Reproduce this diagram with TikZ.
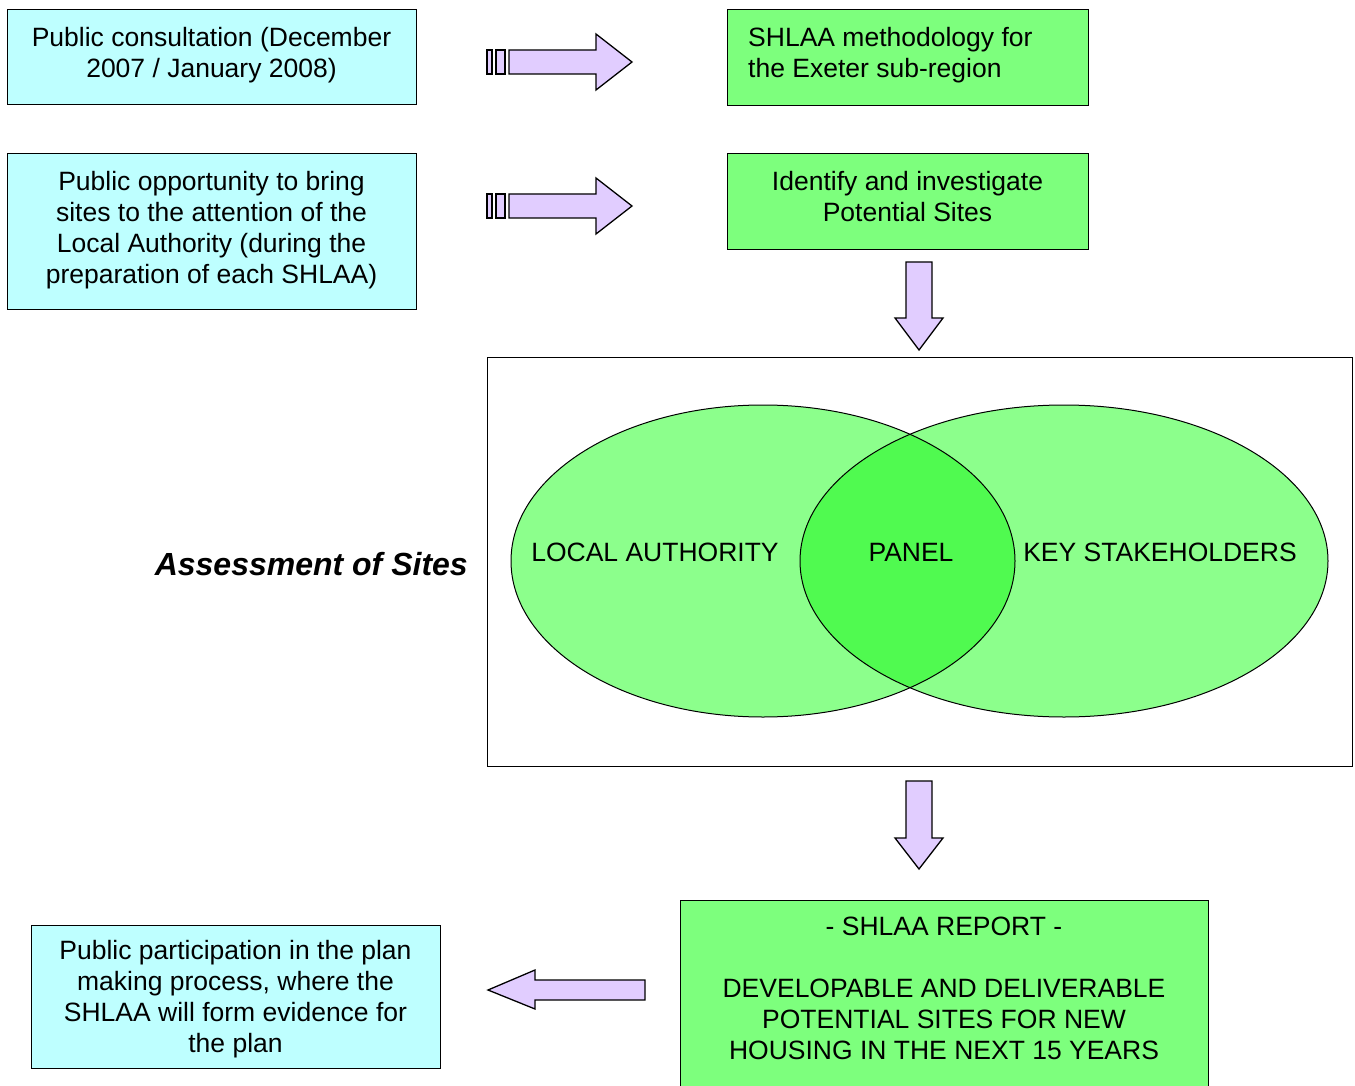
\documentclass[tikz,border=0pt]{standalone}
\usepackage{fontspec}
\setmainfont{Liberation Sans}
\definecolor{cyanbox}{RGB}{190,255,255}
\definecolor{greenbox}{RGB}{125,255,125}
\definecolor{venn}{RGB}{140,255,140}
\definecolor{vennmid}{RGB}{80,250,80}
\definecolor{arrowfill}{RGB}{225,205,255}
\tikzset{
  txt/.style={font=\fontsize{26.5}{31}\selectfont, align=center, inner sep=0pt},
  cbox/.style={draw=black, line width=1pt, fill=cyanbox},
  gbox/.style={draw=black, line width=1pt, fill=greenbox},
  arr/.style={draw=black, line width=1.3pt, fill=arrowfill, line join=miter},
}
\begin{document}
\begin{tikzpicture}[x=1pt,y=-1pt]
\useasboundingbox (0,0) rectangle (1355,1086);
% boxes
\draw[cbox] (7,10) rectangle (416,105);
\node[txt] (c1) at (211.5,55) {Public consultation (December\\2007 / January 2008)};
\draw[cbox] (7,154) rectangle (416,309);
\node[txt] (c2) at (211.5,230) {Public opportunity to bring\\sites to the attention of the\\Local Authority (during the\\preparation of each SHLAA)};
\draw[gbox] (727,10) rectangle (1088,106);
\node[txt, align=left, anchor=west] (g1) at (748,55) {SHLAA methodology for\\the Exeter sub-region};
\draw[gbox] (727,154) rectangle (1088,250);
\node[txt] (g2) at (907.5,197) {Identify and investigate\\Potential Sites};
% striped arrows
\foreach \yy in {62,206}{
  \draw[arr] (487,\yy-12) rectangle (492,\yy+12);
  \draw[arr] (496,\yy-12) rectangle (505,\yy+12);
  \draw[arr] (509,\yy-12) -- (596,\yy-12) -- (596,\yy-28) -- (632,\yy) -- (596,\yy+28) -- (596,\yy+12) -- (509,\yy+12) -- cycle;
}
% down arrows
\foreach \ya/\yb/\yc in {262/318/350, 781/838/869}{
  \draw[arr] (906,\ya) -- (932,\ya) -- (932,\yb) -- (943,\yb) -- (919,\yc) -- (895,\yb) -- (906,\yb) -- cycle;
}
% assessment box
\draw[line width=1pt] (487,357) rectangle (1352,766);
\fill[venn] (763,561) ellipse [x radius=252, y radius=156];
\fill[venn] (1064,561) ellipse [x radius=264, y radius=156];
\begin{scope}
  \clip (763,561) ellipse [x radius=252, y radius=156];
  \fill[vennmid] (1064,561) ellipse [x radius=264, y radius=156];
\end{scope}
\draw[line width=1pt] (763,561) ellipse [x radius=252, y radius=156];
\draw[line width=1pt] (1064,561) ellipse [x radius=264, y radius=156];
\node[txt] (la) at (655,552) {LOCAL AUTHORITY};
\node[txt] (pn) at (911,552) {PANEL};
\node[txt] (ks) at (1160,552) {KEY STAKEHOLDERS};
\node[txt, font=\fontsize{32}{32}\selectfont\bfseries\itshape, anchor=east] (as) at (468,564) {Assessment of Sites};
% report
\draw[gbox] (680,900) rectangle (1208,1095);
\node[txt, anchor=north] (rep) at (944,917) {- SHLAA REPORT -\\[31pt]DEVELOPABLE AND DELIVERABLE\\POTENTIAL SITES FOR NEW\\HOUSING IN THE NEXT 15 YEARS};
% left arrow
\draw[arr] (645,980) -- (535,980) -- (535,970) -- (488,990) -- (535,1009) -- (535,1000) -- (645,1000) -- cycle;
\draw[cbox] (31,925) rectangle (440,1068);
\node[txt] (c3) at (235.5,999) {Public participation in the plan\\making process, where the\\SHLAA will form evidence for\\the plan};
\end{tikzpicture}
\end{document}
